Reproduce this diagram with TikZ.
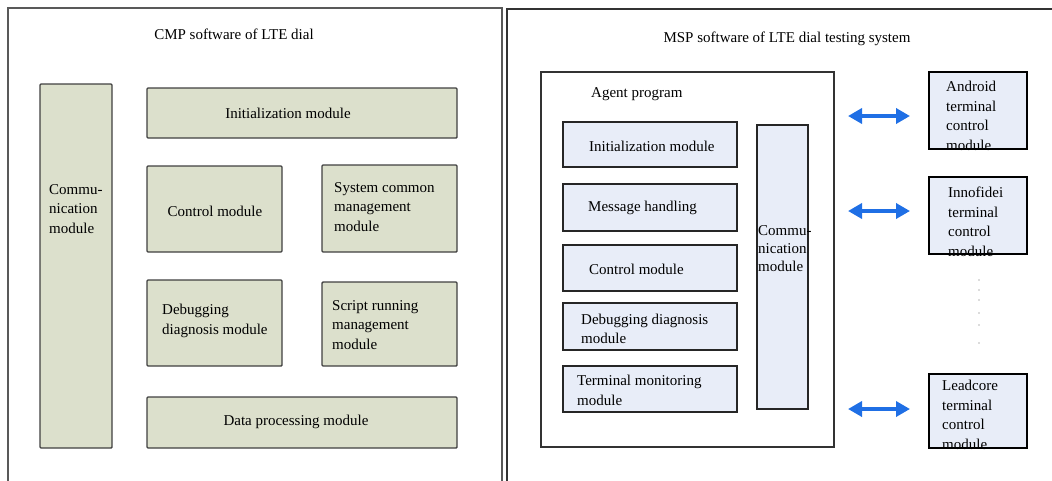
\documentclass[tikz,border=0pt]{standalone}
\usepackage{fontspec}
\setmainfont{Liberation Serif}
\usetikzlibrary{arrows.meta}
\definecolor{lfill}{HTML}{DCE0CC}
\definecolor{rfill}{HTML}{E8EDF8}
\definecolor{lline}{HTML}{404040}
\definecolor{rline}{HTML}{262626}
\definecolor{arrowblue}{HTML}{1F6FE5}
\begin{document}
\begin{tikzpicture}[x=1pt,y=-1pt,
  every node/.style={font=\fontsize{15}{19.5}\selectfont, inner sep=0pt},
  lbox/.style={draw=lline, line width=1.4pt, fill=lfill, rounded corners=1pt},
  rbox/.style={draw=rline, line width=1.8pt, fill=rfill},
  tbox/.style={draw=black, line width=2.5pt, fill=rfill},
  agentbox/.style={draw=black!80, line width=1.6pt, fill=white},
  txt/.style={anchor=west, align=left},
  barrow/.style={draw=arrowblue, line width=4.5pt, {Triangle[length=14pt,width=15pt]}-{Triangle[length=14pt,width=15pt]}},
  dotmark/.style={fill=gray!55}
]
\useasboundingbox (0,0) rectangle (1052,480);

% panel frames
\draw[draw=gray!70!black, line width=1.6pt] (8,482) -- (8,8) -- (502,8) -- (502,482);
\draw[draw=black!80, line width=2.6pt] (507,482) -- (507,9) -- (1054,9);

% ---------- left panel ----------
\node (tcmp) at (234,34) {CMP software of LTE dial};

\node[lbox, minimum width=72pt, minimum height=364pt] (comm) at (76,266) {};
\node[lbox, minimum width=310pt, minimum height=50pt] (init) at (302,113) {};
\node[lbox, minimum width=135pt, minimum height=86pt] (ctrl) at (214.5,209) {};
\node[lbox, minimum width=135pt, minimum height=87pt] (sys) at (389.5,208.5) {};
\node[lbox, minimum width=135pt, minimum height=86pt] (dbg) at (214.5,323) {};
\node[lbox, minimum width=135pt, minimum height=84pt] (scr) at (389.5,324) {};
\node[lbox, minimum width=310pt, minimum height=51pt] (data) at (302,422.5) {};

\node[txt] (tcomm) at (49,209) {Commu-\\nication\\module};
\node (tinit) at (288,113) {Initialization module};
\node (tctrl) at (215,211) {Control module};
\node[txt] (tsys) at (334,207) {System common\\management\\module};
\node[txt] (tdbg) at (162,321) {Debugging\\diagnosis module};
\node[txt] (tscr) at (332,325) {Script running\\management\\module};
\node (tdata) at (296,422) {Data processing module};

% ---------- right panel ----------
\node (tmsp) at (787,39) {MSP software of LTE dial testing system};

\node[agentbox, minimum width=293pt, minimum height=375pt] (agent) at (687.5,259.5) {};
\node[txt] (tagent) at (591,94) {Agent program};

\node[rbox, minimum width=174pt, minimum height=45pt] (rinit) at (650,144.5) {};
\node[rbox, minimum width=174pt, minimum height=47pt] (rmsg) at (650,207.5) {};
\node[rbox, minimum width=174pt, minimum height=46pt] (rctrl) at (650,268) {};
\node[rbox, minimum width=174pt, minimum height=47pt] (rdbg) at (650,326.5) {};
\node[rbox, minimum width=174pt, minimum height=46pt] (rterm) at (650,389) {};
\node[rbox, minimum width=51pt, minimum height=284pt] (rcomm) at (782.5,267) {};

\node[txt] (trinit) at (589,146) {Initialization module};
\node[txt] (trmsg) at (588,208) {Message handling};
\node[txt] (trctrl) at (589,269) {Control module};
\node[txt] (trdbg) at (581,329) {Debugging diagnosis\\module};
\node[txt] (trterm) at (577,390.5) {Terminal monitoring\\module};
\node[txt, font=\fontsize{15}{18}\selectfont] (trcomm) at (758,249) {Commu-\\nication\\module};

\node[tbox, minimum width=98pt, minimum height=77pt] (android) at (978,110.5) {};
\node[tbox, minimum width=98pt, minimum height=77pt] (inno) at (978,215.5) {};
\node[tbox, minimum width=98pt, minimum height=74pt] (lead) at (978,411) {};

\node[txt] (tandroid) at (946,116) {Android\\terminal\\control\\module};
\node[txt] (tinno) at (948,222) {Innofidei\\terminal\\control\\module};
\node[txt] (tlead) at (942,415) {Leadcore\\terminal\\control\\module};

% arrows
\coordinate (a1l) at (848,116); \coordinate (a1r) at (910,116);
\coordinate (a2l) at (848,211); \coordinate (a2r) at (910,211);
\coordinate (a3l) at (848,409); \coordinate (a3r) at (910,409);
\draw[barrow] (a1l) -- (a1r);
\draw[barrow] (a2l) -- (a2r);
\draw[barrow] (a3l) -- (a3r);

% vertical dots
\foreach \yy in {280,290,300,313,325,343} \fill[dotmark] (979,\yy) circle (0.9pt);
\end{tikzpicture}
\end{document}
